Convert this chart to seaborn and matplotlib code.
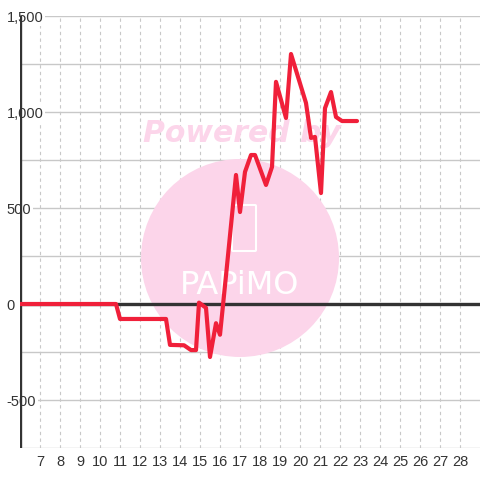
import seaborn as sns
import matplotlib.pyplot as plt
from matplotlib.patches import Circle, FancyBboxPatch
import pandas as pd

days = [6, 10.8, 11.0, 13.3, 13.5, 14.2, 14.55, 14.8, 14.95, 15.3, 15.5, 15.8,
        16.0, 16.35, 16.8, 17.0, 17.25, 17.55, 17.75, 18.3, 18.6, 18.8, 19.3,
        19.55, 20.3, 20.55, 20.75, 21.05, 21.25, 21.55, 21.8, 22.1, 22.85]
values = [0, 0, -78, -78, -213, -215, -240, -240, 7, -20, -276, -100,
          -160, 200, 672, 479, 688, 776, 776, 620, 714, 1157, 969,
          1302, 1047, 865, 870, 578, 1020, 1104, 974, 953, 953]
x_ticks = list(range(7, 29))
y_major = [-500, 0, 500, 1000, 1500]
y_minor = [-750, -250, 250, 750, 1250]

sns.set_style('white')
plt.rcParams['font.family'] = ['Liberation Sans', 'DejaVu Sans']

fig = plt.figure(figsize=(4.8, 4.8), dpi=100)
ax = fig.add_axes([20 / 480, 32 / 480, 460 / 480, 432 / 480])

df = pd.DataFrame({'day': days, 'value': values})

# watermark
circ = Circle((2.40, 4.80 - 2.58), 0.99, transform=fig.dpi_scale_trans,
              facecolor='#fcd5ea', edgecolor='none', zorder=1)
ax.add_patch(circ)
ax.text(2.42, 4.80 - 1.33, 'Powered by', transform=fig.dpi_scale_trans,
        ha='center', va='center', fontsize=21.5, fontweight='bold',
        fontstyle='italic', family='DejaVu Sans', color='#fcd5ea', zorder=1.1)
ax.text(2.40, 4.80 - 2.86, 'PAPiMO', transform=fig.dpi_scale_trans,
        ha='center', va='center', fontsize=23, color='white',
        family='DejaVu Sans', zorder=1.1)
icon = FancyBboxPatch((2.33, 4.80 - 2.50), 0.22, 0.44, boxstyle='round,pad=0.01',
                      transform=fig.dpi_scale_trans, facecolor='none',
                      edgecolor='white', linewidth=1.5, zorder=1.1)
ax.add_patch(icon)

sns.lineplot(data=df, x='day', y='value', ax=ax, color='#f0203a',
             linewidth=3, estimator=None, sort=False, zorder=3)

ax.set_xlim(6, 29)
ax.set_ylim(-750, 1500)
ax.set_xticks(x_ticks)
ax.set_yticks(y_major)
ax.set_yticks(y_minor, minor=True)
ax.set_yticklabels(['-500', '0', '500', '1,000', '1,500'])

ax.grid(axis='x', color='#c8c8c8', linestyle=(0, (3, 3)), linewidth=0.8)
ax.grid(axis='y', which='both', color='#c8c8c8', linestyle='-', linewidth=1)
ax.axhline(0, color='#333333', linewidth=2.4, zorder=2)
ax.axvline(6, color='#333333', linewidth=2.4, zorder=1.4)

for s in ax.spines.values():
    s.set_visible(False)

ax.tick_params(axis='both', which='both', length=0, labelsize=10.5,
               labelcolor='#333333')
ax.tick_params(axis='x', pad=5)
ax.tick_params(axis='y', pad=9.5)
for lab in ax.get_yticklabels():
    lab.set_ha('left')
    lab.set_bbox(dict(facecolor='white', edgecolor='none', pad=1))

ax.set_xlabel('')
ax.set_ylabel('')

plt.savefig('out.png', dpi=100)
plt.close()
